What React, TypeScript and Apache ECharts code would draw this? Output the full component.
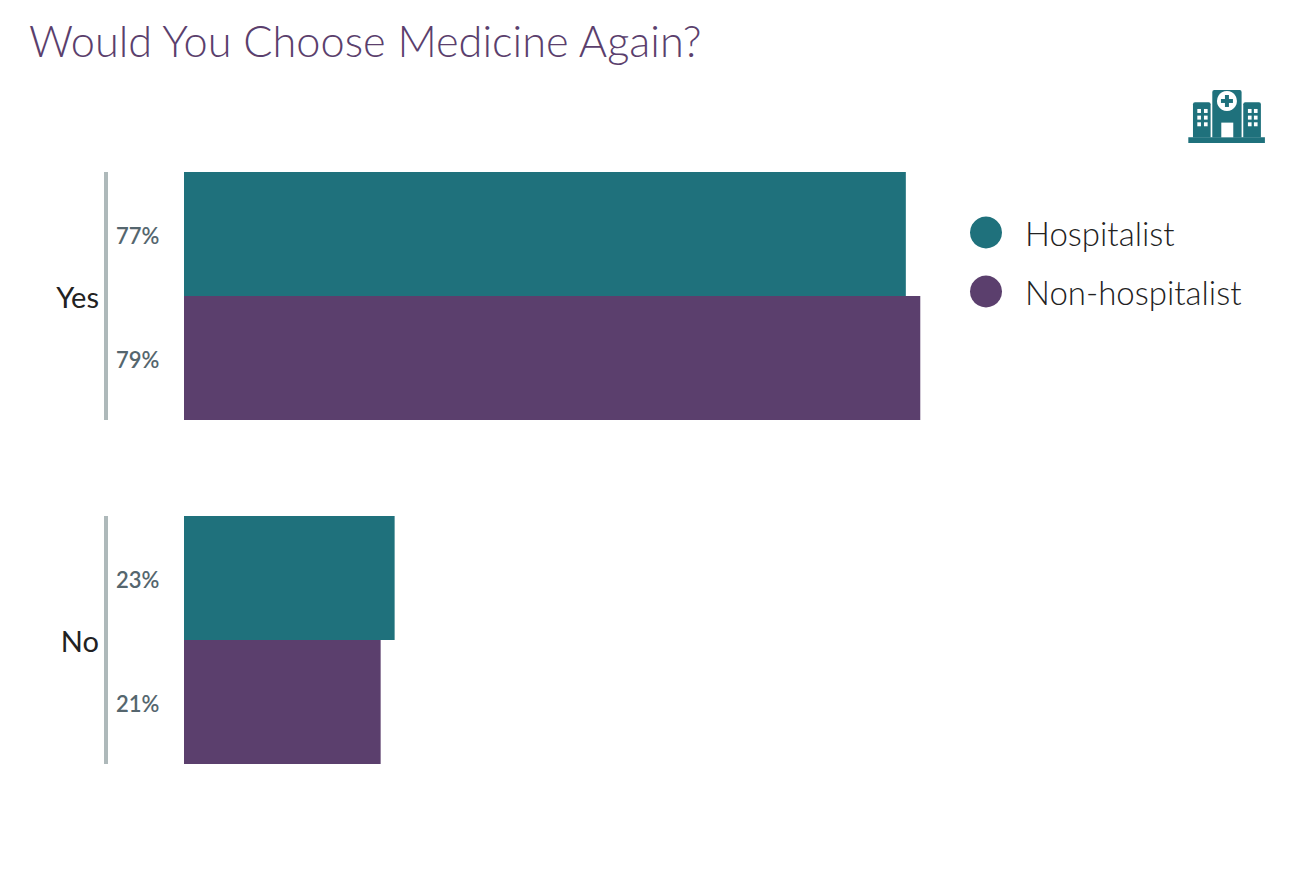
import React, { useEffect, useRef } from "react";
import * as echarts from "echarts";

const titleText = "Would You Choose Medicine Again?";
const categories = ["Yes", "No"];
const seriesNames = ["Hospitalist", "Non-hospitalist"];
const hospitalist = [77.45, 22.6];
const nonHospitalist = [79, 21.1];

const TEAL = "#1F717C";
const PURPLE = "#5B3F6D";
const FONT = "Lato, 'Open Sans', sans-serif";

const windowRows = [102, 122, 142];
const windowCols = [82, 102, 234, 252];

function hospitalIcon() {
  const white = { fill: "#fff" };
  const teal = { fill: TEAL };
  const children: any[] = [
    { type: "rect", shape: { x: 55, y: 187, width: 230, height: 17 }, style: teal },
    { type: "rect", shape: { x: 69, y: 82, width: 53, height: 106, r: [6, 6, 0, 0] }, style: teal },
    { type: "rect", shape: { x: 220, y: 82, width: 53, height: 106, r: [6, 6, 0, 0] }, style: teal },
    { type: "rect", shape: { x: 127, y: 45, width: 88, height: 143, r: [6, 6, 0, 0] }, style: teal },
    { type: "rect", shape: { x: 154, y: 143, width: 36, height: 44 }, style: white },
    { type: "circle", shape: { cx: 171, cy: 78, r: 30 }, style: white },
    { type: "rect", shape: { x: 165, y: 60, width: 12, height: 36 }, style: teal },
    { type: "rect", shape: { x: 153, y: 72, width: 36, height: 12 }, style: teal },
  ];
  for (const x of windowCols) {
    for (const y of windowRows) {
      children.push({ type: "rect", shape: { x, y, width: 11, height: 12 }, style: white });
    }
  }
  return { type: "group", x: 1170, y: 75, scaleX: 1 / 3, scaleY: 1 / 3, silent: true, children };
}

export default function App() {
  const ref = useRef<HTMLDivElement>(null);
  useEffect(() => {
    document.body.style.margin = "0";
    const chart = echarts.init(ref.current!, undefined, { renderer: "svg" });
    const barLabel = {
      show: true,
      position: [-68, "50%"] as any,
      offset: [0, 1],
      verticalAlign: "middle" as const,
      align: "left" as const,
      color: "#55666E",
      fontFamily: FONT,
      fontSize: 22,
      fontWeight: 600,
      formatter: (p: any) => `${Math.round(p.value)}%`,
    };
    chart.setOption({
      animation: false,
      backgroundColor: "#fff",
      title: {
        text: titleText,
        left: 29,
        top: 18,
        padding: 0,
        textStyle: { color: PURPLE, fontFamily: FONT, fontSize: 43.3, fontWeight: 300 },
      },
      legend: {
        data: seriesNames,
        orient: "vertical",
        left: 970,
        top: 216,
        padding: 0,
        icon: "circle",
        itemWidth: 32,
        itemHeight: 32,
        itemGap: 26,
        selectedMode: false,
        textStyle: {
          color: "#222",
          fontFamily: FONT,
          fontSize: 33,
          fontWeight: 300,
          padding: [2, 0, 0, 18],
        },
      },
      grid: { left: 184, top: 124, width: 932, height: 688 },
      xAxis: { type: "value", min: 0, max: 100, show: false },
      yAxis: {
        type: "category",
        data: categories,
        inverse: true,
        axisLine: { show: false },
        axisTick: { show: false },
        axisLabel: { margin: 85, color: "#222", fontFamily: FONT, fontSize: 29, fontWeight: 400 },
      },
      graphic: [hospitalIcon()],
      series: [
        {
          name: seriesNames[0],
          type: "bar",
          data: hospitalist,
          barWidth: 124,
          barGap: 0,
          itemStyle: { color: TEAL },
          label: barLabel,
        },
        {
          name: seriesNames[1],
          type: "bar",
          data: nonHospitalist,
          barWidth: 124,
          barGap: 0,
          itemStyle: { color: PURPLE },
          label: barLabel,
        },
        {
          type: "custom",
          silent: true,
          data: categories.map((_, i) => [0, i]),
          encode: { x: 0, y: 1 },
          renderItem: (_: any, api: any) => {
            const p = api.coord([0, api.value(1)]);
            return {
              type: "rect",
              shape: { x: p[0] - 80, y: p[1] - 124, width: 4, height: 248 },
              style: { fill: "#AEB9BA" },
            };
          },
        },
      ],
    });
    return () => chart.dispose();
  }, []);
  return <div ref={ref} style={{ width: 1290, height: 878 }} />;
}
